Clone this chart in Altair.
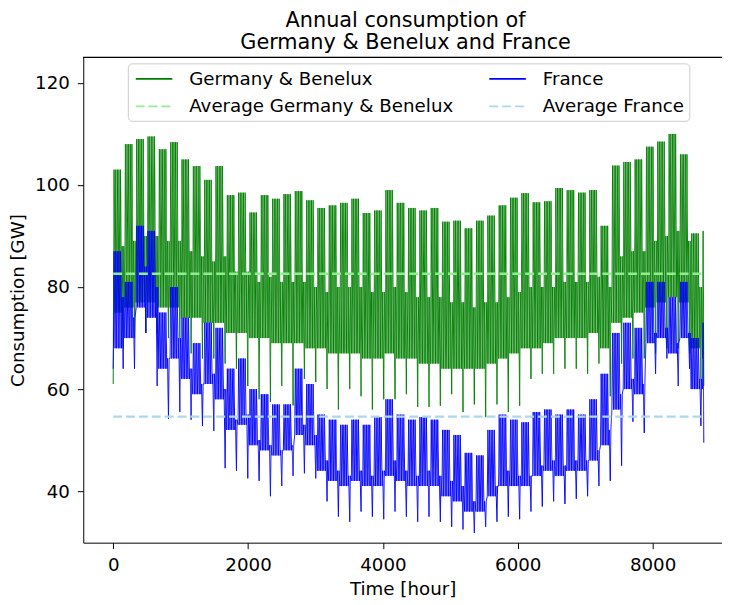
import altair as alt
import pandas as pd

# ---- values (per week, 52 weeks) ----
GER_WD_PEAK = [103, 108, 109, 109.5, 107, 108.4, 105, 103.7, 101, 103.7,
               98, 98.5, 94.6, 98, 97.3, 98.2, 98.8, 97, 95.5, 96,
               96.5, 97.3, 94.5, 95, 99, 96.5, 95.5, 95, 95.5, 92.8,
               93, 91.5, 93, 94, 96, 97.5, 98.4, 96.6, 96.8, 99.4,
               99, 98.5, 99, 92, 103.8, 104.5, 105, 107.5, 108.5, 110,
               106, 90.5]
GER_WD_TROUGH = [75, 76, 77, 77, 76, 76, 74, 74, 73, 73,
                 71, 71, 70, 70, 69, 69, 69, 68, 68, 67,
                 67, 67, 66, 66, 67, 66, 66, 65, 65, 64,
                 64, 64, 64, 65, 66, 67, 68, 68, 69, 70,
                 70, 70, 71, 68, 73, 74, 75, 76, 77, 78,
                 77, 68]
GER_WE_PEAK = [88, 89, 90, 90, 89, 89, 87, 86, 85, 86,
               83, 83, 81, 82, 81, 81, 81, 80, 79, 80,
               80, 80, 79, 79, 80, 79, 78, 78, 78, 77,
               77, 76, 77, 77, 78, 79, 80, 80, 80, 81,
               81, 81, 82, 80, 86, 87, 87, 89, 90, 91,
               89, 80]
GER_WE_TROUGH = [68, 70, 71, 71, 70, 70, 67, 66, 66, 65,
                 64, 60.6, 58, 57.5, 60.6, 56.8, 62, 61.4, 60, 56,
                 60, 58.6, 56, 58, 58, 59, 56.5, 56.5, 56.7, 59,
                 55.5, 57, 54.5, 57, 55.5, 56.7, 62, 63, 63, 64,
                 64, 63, 65, 58.6, 65, 66, 66, 67, 68, 68,
                 67, 62]

FRA_WD_PEAK = [87, 81, 92, 91, 75, 80, 74, 69, 73, 72,
               64, 66, 60, 59, 57, 57, 64, 61, 55, 54,
               53, 54, 53, 54.5, 58, 55, 54, 54.5, 54, 52,
               51, 47.5, 47, 52, 55, 54, 53.5, 55.5, 56, 55,
               56, 55, 58, 63, 71, 73, 72, 81, 81, 78,
               81, 70]
FRA_WD_TROUGH = [68, 70, 76, 74, 64, 66, 62, 59, 61, 58,
                 52, 53, 49, 48, 47, 48, 51, 49, 44, 42,
                 41, 42, 41, 41, 43, 42, 41, 41, 41, 39,
                 38, 36, 36, 39, 41, 41, 41, 43, 44, 43,
                 44, 44, 46, 49, 56, 60, 59, 69, 70, 67,
                 70, 60]
FRA_WE_PEAK = [78, 74, 84, 80, 66, 70, 64, 61, 63, 60,
               54, 55, 50, 49, 48, 49, 53, 51, 46, 44,
               43, 44, 43, 44, 46, 44, 43, 44, 43, 42,
               41, 38, 38, 41, 44, 43, 43, 45, 46, 45,
               46, 46, 48, 52, 59, 62, 61, 71, 72, 69,
               71, 62]
FRA_WE_TROUGH = [64, 64, 71, 60.6, 54.2, 55.5, 54, 52.8, 51.8, 44.5,
                 44, 42.5, 42, 39, 41, 43, 43.5, 42.5, 38, 35,
                 34, 36, 35, 34.5, 36, 35, 34, 35, 34, 33,
                 32.5, 31.8, 33, 34, 35, 34.5, 36, 37, 38, 37.5,
                 38.5, 39, 41, 42, 45, 53.6, 51.4, 63, 66, 60.6,
                 64, 52.8]

GER_START, FRA_START = 61, 64
GER_LAST_DAY = [66, 91, 60.6]
FRA_LAST_DAY = [60, 73, 49.5]
LAST_DAY_HOURS = [8740, 8749, 8759]

AVG_GER = 82.6
AVG_FRA = 54.6

# legend order (column-wise fill): col 1 = Germany entries, col 2 = France entries
SERIES = ["Germany & Benelux", "Average Germany & Benelux", "France", "Average France"]
COLORS = ["green", "lightgreen", "blue", "lightblue"]
DASHES = [[1, 0], [9, 4], [1, 0], [9, 4]]


def build(name, wd_peak, wd_trough, we_peak, we_trough, start, last_day):
    rows = [(0, start)]
    for w in range(52):
        for d in range(7):
            day = 7 * w + d
            if d < 5:
                lo, hi = wd_trough[w], wd_peak[w]
            elif d == 5:
                lo, hi = wd_trough[w], we_peak[w]
            else:
                lo, hi = we_trough[w], we_peak[w]
            rows.append((24 * day + 4, lo))
            rows.append((24 * day + 13, hi))
    for h, v in zip(LAST_DAY_HOURS, last_day):
        rows.append((h, v))
    df = pd.DataFrame(rows, columns=["hour", "value"])
    df["series"] = name
    return df


ger = build(SERIES[0], GER_WD_PEAK, GER_WD_TROUGH, GER_WE_PEAK, GER_WE_TROUGH, GER_START, GER_LAST_DAY)
fra = build(SERIES[2], FRA_WD_PEAK, FRA_WD_TROUGH, FRA_WE_PEAK, FRA_WE_TROUGH, FRA_START, FRA_LAST_DAY)
avg = pd.DataFrame({
    "hour": [0, 8759, 0, 8759],
    "value": [AVG_GER, AVG_GER, AVG_FRA, AVG_FRA],
    "series": [SERIES[1], SERIES[1], SERIES[3], SERIES[3]],
})

FONT = "DejaVu Sans"
FS = 18.4

xenc = alt.X("hour:Q",
             scale=alt.Scale(domain=[-444, 9029], nice=False, zero=False),
             axis=alt.Axis(values=[0, 2000, 4000, 6000, 8000], title="Time [hour]",
                           format="d", labelPadding=7, titlePadding=6))
yenc = alt.Y("value:Q",
             scale=alt.Scale(domain=[29.9, 125.0], nice=False, zero=False),
             axis=alt.Axis(values=[40, 60, 80, 100, 120], title="Consumption [GW]",
                           labelPadding=8, titlePadding=7))

legend = alt.Legend(orient="none", legendX=45, legendY=6, columns=2, title=None,
                    symbolType="M-2,0H2", symbolSize=342, symbolOffset=11,
                    symbolStrokeWidth=1.8,
                    labelFontSize=FS, labelFont=FONT,
                    labelOffset=25, padding=5, columnPadding=32, rowPadding=8,
                    fillColor="rgba(255,255,255,0.8)", strokeColor="#cccccc",
                    cornerRadius=4, labelLimit=400, labelColor="black")

color = alt.Color("series:N", scale=alt.Scale(domain=SERIES, range=COLORS), legend=legend)
dash = alt.StrokeDash("series:N", scale=alt.Scale(domain=SERIES, range=DASHES), legend=legend)

base_enc = dict(x=xenc, y=yenc, color=color, strokeDash=dash)

l_ger = alt.Chart(ger).mark_line(clip=True, strokeWidth=1).encode(**base_enc)
l_fra = alt.Chart(fra).mark_line(clip=True, strokeWidth=1).encode(**base_enc)
l_avg = alt.Chart(avg).mark_line(clip=True, strokeWidth=2.4).encode(**base_enc)
top_spine = alt.Chart(avg).mark_rule(color="black", strokeWidth=1).encode(
    x=alt.value(0), x2=alt.value(645), y=alt.value(0))

chart = alt.layer(l_ger, l_fra, l_avg, top_spine).properties(
    width=645, height=490,
    background="white",
    title=alt.TitleParams(["Annual consumption of", "Germany & Benelux and France"],
                          fontSize=21, font=FONT, fontWeight="normal", anchor="middle",
                          lineHeight=22, offset=4, dx=3, color="black"),
    padding={"left": 76, "top": 47, "right": 0, "bottom": 58},
    autosize=alt.AutoSizeParams(type="none"),
).configure_view(stroke=None).configure_axis(
    grid=False, domainColor="black", tickColor="black", labelColor="black", titleColor="black",
    tickSize=6, labelFontSize=FS, titleFontSize=FS, labelFont=FONT, titleFont=FONT,
    titleFontWeight="normal", domainWidth=1, tickWidth=1
)

chart.save("out.html", embed_options={"renderer": "svg", "actions": False})
